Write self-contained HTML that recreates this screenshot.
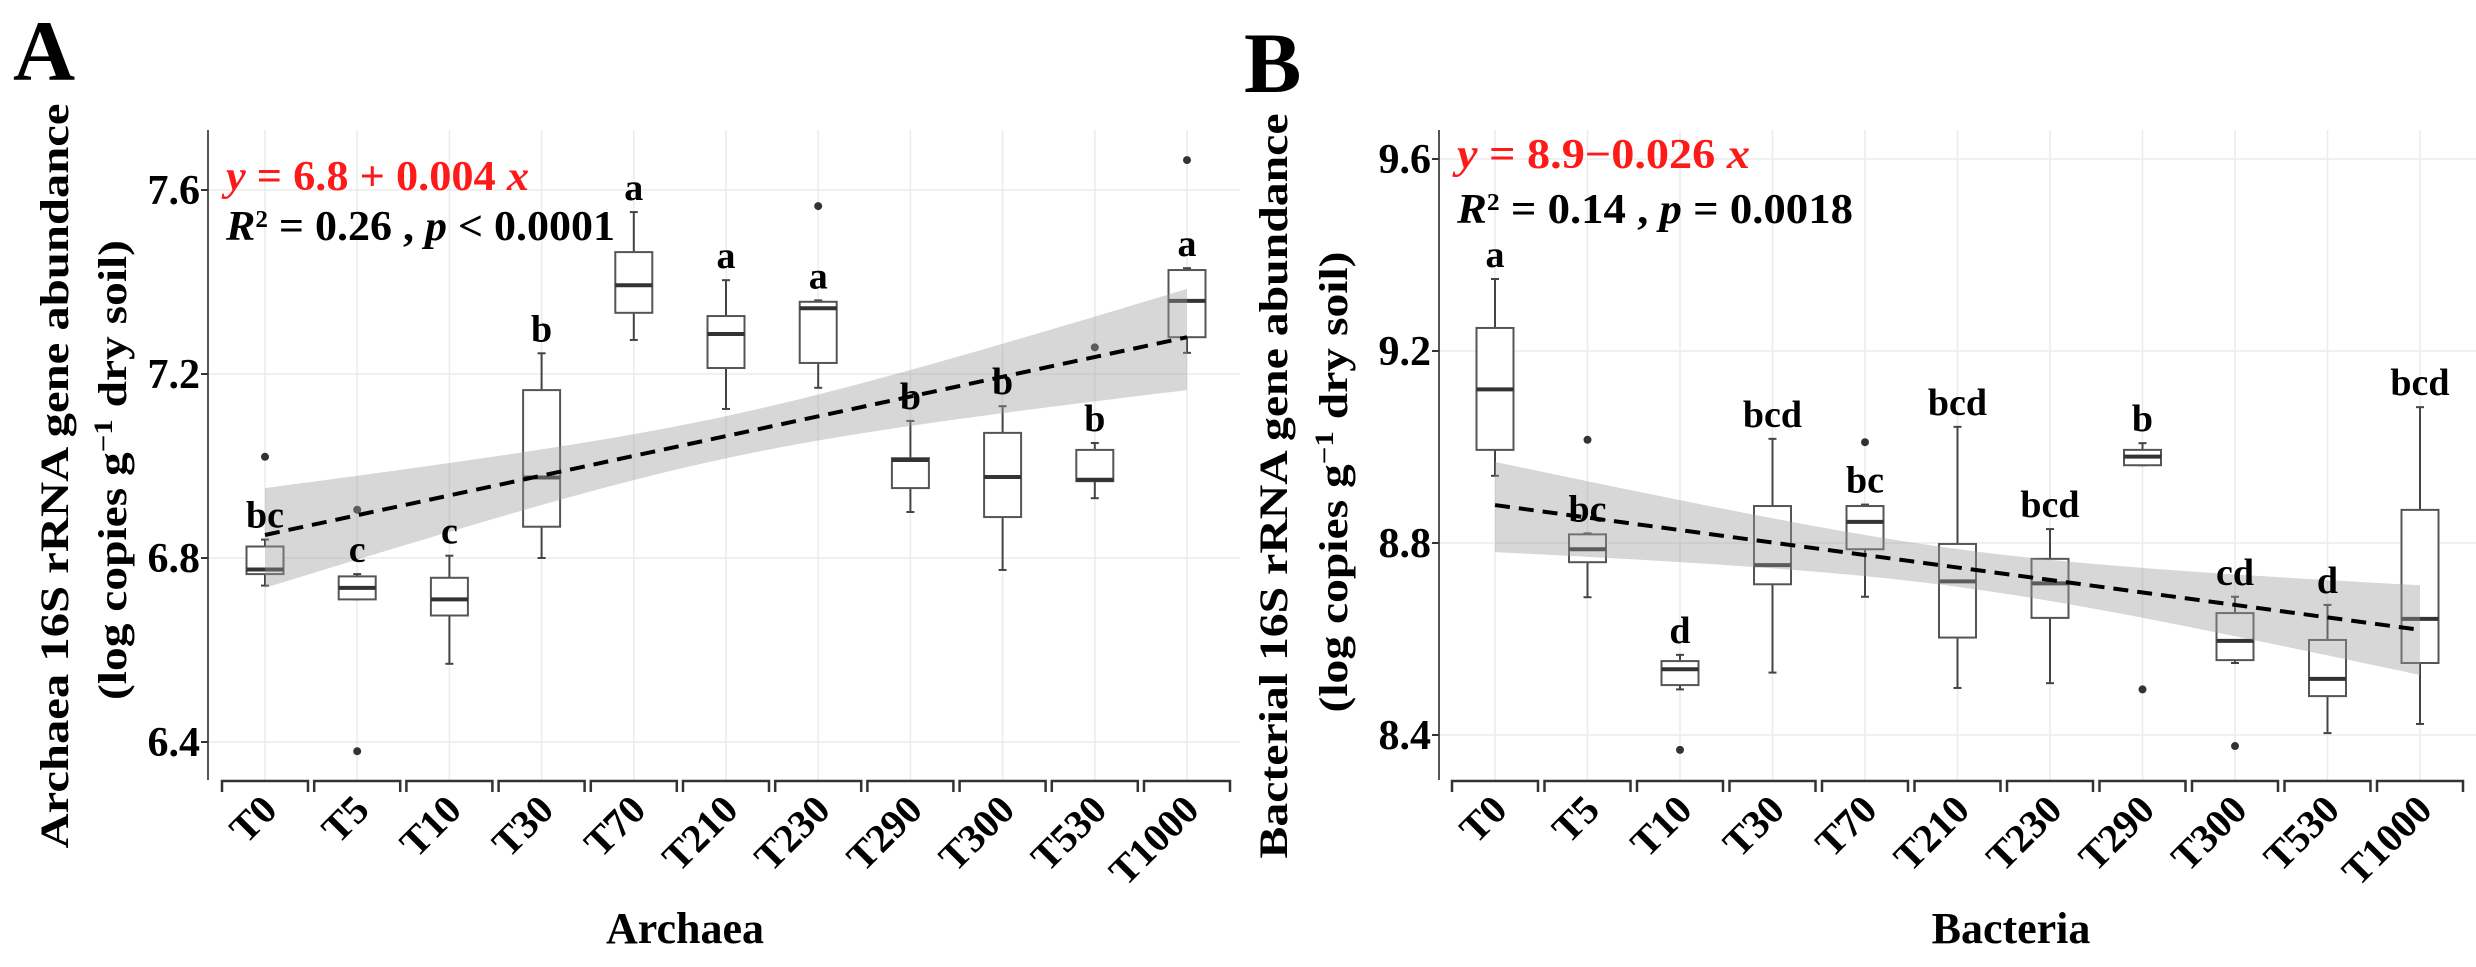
<!DOCTYPE html>
<html><head><meta charset="utf-8"><style>
html,body{margin:0;padding:0;background:#fff}
svg{display:block}
text{font-family:"Liberation Serif",serif;font-weight:bold}
</style></head><body>
<svg id="fig" width="2476" height="967" viewBox="0 0 2476 967" xmlns="http://www.w3.org/2000/svg"></svg>
<script>
const categories = ["T0","T5","T10","T30","T70","T210","T230","T290","T300","T530","T1000"];
// Panel A (Archaea)
const aLow  = [6.74,6.71,6.57,6.80,7.274,7.124,7.17,6.90,6.774,6.93,7.246];
const aQ1   = [6.765,6.71,6.675,6.868,7.333,7.213,7.224,6.952,6.889,6.967,7.28];
const aMed  = [6.775,6.735,6.71,6.975,7.393,7.287,7.343,7.013,6.976,6.97,7.359];
const aQ3   = [6.825,6.76,6.757,7.165,7.465,7.326,7.357,7.017,7.072,7.035,7.426];
const aHigh = [6.84,6.765,6.805,7.245,7.552,7.404,7.36,7.098,7.13,7.05,7.43];
const aOutliers = [[7.02],[6.905,6.38],[],[],[],[],[7.565],[],[],[7.258],[7.665]];
const aLetters = ["bc","c","c","b","a","a","a","b","b","b","a"];
const aFit = [6.85,7.28];
const aBandUpper = [6.952,7.385];
const aBandLower = [6.735,7.165];
const aTicks = [6.4,6.8,7.2,7.6];
// Panel B (Bacteria)
const bLow  = [8.94,8.687,8.495,8.53,8.688,8.498,8.508,8.962,8.55,8.404,8.423];
const bQ1   = [8.994,8.76,8.504,8.714,8.787,8.603,8.644,8.962,8.556,8.481,8.55];
const bMed  = [9.12,8.787,8.537,8.754,8.844,8.72,8.716,8.98,8.596,8.517,8.642];
const bQ3   = [9.248,8.818,8.554,8.877,8.877,8.798,8.767,8.994,8.654,8.598,8.869];
const bHigh = [9.35,8.82,8.567,9.017,8.88,9.042,8.829,9.008,8.688,8.671,9.083];
const bOutliers = [[],[9.015],[8.369],[],[9.01],[],[],[8.495],[8.377],[],[]];
const bLetters = ["a","bc","d","bcd","bc","bcd","bcd","b","cd","d","bcd"];
const bFit = [8.879,8.619];
const bBandUpper = [8.969,8.712];
const bBandLower = [8.781,8.525];
const bTicks = [8.4,8.8,9.2,9.6];

const NS="http://www.w3.org/2000/svg";
const svg=document.getElementById('fig');
function mk(tag,attrs,parent){const e=document.createElementNS(NS,tag);for(const k in attrs)e.setAttribute(k,attrs[k]);(parent||svg).appendChild(e);return e;}

function panel(cfg){
  const g=mk('g',{});
  
  
  const X=i=>cfg.x0+i*cfg.step;
  const Y=v=>cfg.yRef-(v-cfg.vRef)*cfg.pxPer;
  const left=cfg.axisX, right=cfg.right, top=130, bottom=780;
  for(const t of cfg.ticks){const l=mk('line',{x1:left,x2:right,y1:Y(t),y2:Y(t),stroke:'#ececec','stroke-width':1.5},g);
    }
  categories.forEach((c,i)=>{const l=mk('line',{x1:X(i),x2:X(i),y1:top,y2:bottom,stroke:'#ececec','stroke-width':1.5},g);
    });
  const bw=37;
  categories.forEach((c,i)=>{
    const bg=mk('g',{},g);
    
    
    const cx=X(i);
    mk('line',{x1:cx,x2:cx,y1:Y(cfg.high[i]),y2:Y(cfg.q3[i]),stroke:'#444','stroke-width':2},bg);
    mk('line',{x1:cx,x2:cx,y1:Y(cfg.q1[i]),y2:Y(cfg.low[i]),stroke:'#444','stroke-width':2},bg);
    mk('line',{x1:cx-4,x2:cx+4,y1:Y(cfg.high[i]),y2:Y(cfg.high[i]),stroke:'#444','stroke-width':2},bg);
    mk('line',{x1:cx-4,x2:cx+4,y1:Y(cfg.low[i]),y2:Y(cfg.low[i]),stroke:'#444','stroke-width':2},bg);
    mk('rect',{x:cx-bw/2,y:Y(cfg.q3[i]),width:bw,height:Math.max(1,Y(cfg.q1[i])-Y(cfg.q3[i])),fill:'#fff',stroke:'#555','stroke-width':2},bg);
    mk('line',{x1:cx-bw/2,x2:cx+bw/2,y1:Y(cfg.med[i]),y2:Y(cfg.med[i]),stroke:'#333','stroke-width':4},bg);
    for(const o of cfg.out[i]){const d=mk('circle',{cx:cx,cy:Y(o),r:4,fill:'#333'},bg);
      }
  });
  const n=categories.length-1, mid=n/2;
  const hw0=((cfg.bu[0]-cfg.bl[0])+(cfg.bu[1]-cfg.bl[1]))/4, hwMin=hw0*0.42;
  const fit=i=>cfg.fit[0]+(cfg.fit[1]-cfg.fit[0])*i/n;
  const hw=i=>Math.sqrt(hwMin*hwMin+(hw0*hw0-hwMin*hwMin)*((i-mid)/mid)**2);
  const cU=i=>{const t=i/n;return cfg.bu[0]+(cfg.bu[1]-cfg.bu[0])*t - (cfg.fit[0]+(cfg.fit[1]-cfg.fit[0])*t) ;};
  let up=[],lo=[];
  for(let k=0;k<=100;k++){const i=n*k/100;
    const skewU=cU(i)/hw0; const skewL=((cfg.fit[0]+(cfg.fit[1]-cfg.fit[0])*i/n)-(cfg.bl[0]+(cfg.bl[1]-cfg.bl[0])*i/n))/hw0;
    up.push(X(i)+','+Y(fit(i)+hw(i)*skewU)); lo.unshift(X(i)+','+Y(fit(i)-hw(i)*skewL));}
  const band=mk('polygon',{points:up.concat(lo).join(' '),fill:'#9a9a9a','fill-opacity':0.4},g);
  
  const fl=mk('line',{x1:X(0),y1:Y(cfg.fit[0]),x2:X(n),y2:Y(cfg.fit[1]),stroke:'#000','stroke-width':4,'stroke-dasharray':'15 9'},g);
  
  categories.forEach((c,i)=>{const t=mk('text',{x:X(i),y:Y(cfg.high[i])-12,'text-anchor':'middle','font-size':38},g);
    t.textContent=cfg.letters[i];});
  const ax=mk('line',{x1:left,x2:left,y1:top,y2:bottom,stroke:'#555','stroke-width':2},g);
  
  for(const t of cfg.ticks){mk('line',{x1:left-7,x2:left,y1:Y(t),y2:Y(t),stroke:'#333','stroke-width':2},g);
    const tl=mk('text',{x:left-8,y:Y(t)+14,'text-anchor':'end','font-size':42},g);tl.textContent=t.toFixed(1);
    }
  categories.forEach((c,i)=>{const cx=X(i);
    mk('path',{d:`M${cx-43},792 V781 H${cx+43} V792`,fill:'none',stroke:'#333','stroke-width':2.5},g);
    const t=mk('text',{x:0,y:0,'text-anchor':'end','font-size':40,transform:`translate(${cx+14},${812}) rotate(-45)`},g);
    t.textContent=c;});
  const xt=mk('text',{x:cfg.xTitleX,y:943,'text-anchor':'middle','font-size':44},g);xt.textContent=cfg.xTitle;
  
  const y1=mk('text',{x:0,y:0,'text-anchor':'middle','font-size':40,transform:`translate(${cfg.yt1x},${cfg.yt1c}) rotate(-90)`,textLength:cfg.yt1len,lengthAdjust:'spacingAndGlyphs','font-family':'Liberation Sans'},g);
  y1.textContent=cfg.yTitle1;
  const y2=mk('text',{x:0,y:0,'text-anchor':'middle','font-size':40,transform:`translate(${cfg.yt2x},${cfg.yt2c}) rotate(-90)`,textLength:cfg.yt2len,lengthAdjust:'spacingAndGlyphs','font-family':'Liberation Sans'},g);
  y2.innerHTML='(log copies g<tspan dy="-14" font-size="26">−1</tspan><tspan dy="14"> dry soil)</tspan>';
  
  const pl=mk('text',{x:cfg.letterX,y:cfg.letterY,'font-size':86},g);pl.textContent=cfg.panelLetter;
  
  const e1=mk('text',{x:left+18,y:cfg.eqY,'font-size':42,fill:'#ff1a1a',textLength:cfg.eqLen,lengthAdjust:'spacingAndGlyphs'},g);
  e1.innerHTML=cfg.eq;
  const e2=mk('text',{x:left+18,y:cfg.statY,'font-size':42,fill:'#000',textLength:cfg.statLen,lengthAdjust:'spacingAndGlyphs'},g);
  e2.innerHTML=cfg.stat;
}

panel({name:'panel-a-archaea',x0:265,step:92.2,axisX:208,right:1240,yRef:558,vRef:6.8,pxPer:460,ticks:aTicks,
  low:aLow,q1:aQ1,med:aMed,q3:aQ3,high:aHigh,out:aOutliers,letters:aLetters,fit:aFit,bu:aBandUpper,bl:aBandLower,
  xTitle:'Archaea',xTitleX:685,yTitle1:'Archaea 16S rRNA gene abundance',yt1x:68,yt1c:476,yt1len:745,yt2x:126,yt2c:470,yt2len:460,
  panelLetter:'A',letterX:13,letterY:80,
  eq:'<tspan font-style="italic">y</tspan> = 6.8 + 0.004 <tspan font-style="italic">x</tspan>',eqY:190,eqLen:303,
  stat:'<tspan font-style="italic">R</tspan><tspan dy="-13" font-size="24">2</tspan><tspan dy="13"> = 0.26 , </tspan><tspan font-style="italic">p</tspan> &lt; 0.0001',statY:240,statLen:389});
panel({name:'panel-b-bacteria',x0:1495,step:92.5,axisX:1439,right:2476,yRef:543,vRef:8.8,pxPer:480,ticks:bTicks,
  low:bLow,q1:bQ1,med:bMed,q3:bQ3,high:bHigh,out:bOutliers,letters:bLetters,fit:bFit,bu:bBandUpper,bl:bBandLower,
  xTitle:'Bacteria',xTitleX:2011,yTitle1:'Bacterial 16S rRNA gene abundance',yt1x:1287,yt1c:486,yt1len:745,yt2x:1347,yt2c:482,yt2len:461,
  panelLetter:'B',letterX:1244,letterY:92,
  eq:'<tspan font-style="italic">y</tspan> = 8.9−0.026 <tspan font-style="italic">x</tspan>',eqY:168,eqLen:293,
  stat:'<tspan font-style="italic">R</tspan><tspan dy="-13" font-size="24">2</tspan><tspan dy="13"> = 0.14 , </tspan><tspan font-style="italic">p</tspan> = 0.0018',statY:223,statLen:396});
</script>
</body></html>
